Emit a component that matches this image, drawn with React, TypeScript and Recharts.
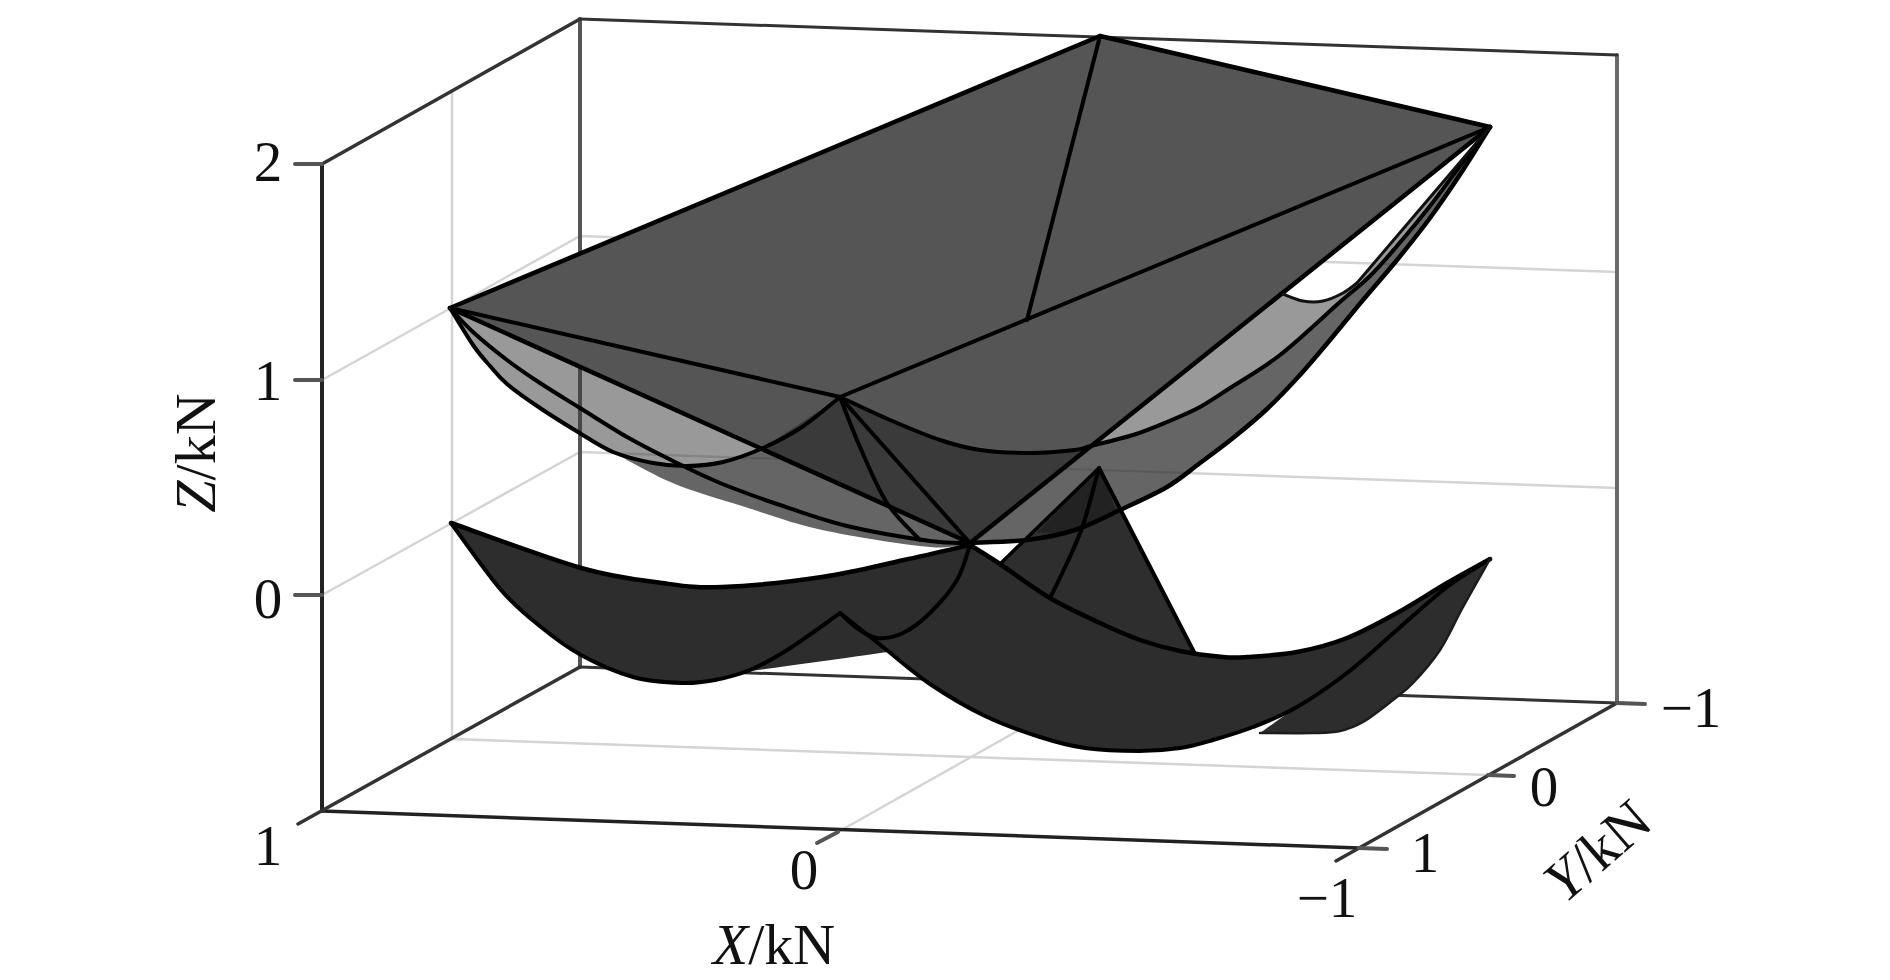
import React from 'react';
import { ScatterChart, Scatter, XAxis, YAxis } from 'recharts';

type Pt = [number, number];

// Projected picture-plane readings [horizontal, vertical] of the 3D plot
const frontLeftEdge: Pt[] = [[322, 164], [322, 811]];
const backLeftEdge: Pt[] = [[580, 19], [580, 667]];
const backRightEdge: Pt[] = [[1617, 55], [1617, 703]];
const topLeftEdge: Pt[] = [[322, 164], [580, 19]];
const topBackEdge: Pt[] = [[580, 19], [1617, 55]];
const floorBackEdge: Pt[] = [[580, 667], [1617, 703]];
const xAxisEdge: Pt[] = [[322, 811], [1359, 848]];
const floorLeftEdge: Pt[] = [[298, 824], [580, 667]];
const yAxisEdge: Pt[] = [[1336, 861], [1617, 703]];
const ticks: Pt[][] = [
  [[295, 164], [322, 164]],
  [[295, 380], [322, 380]],
  [[295, 595], [322, 595]],
  [[817, 843], [838, 832]],
  [[1359, 848], [1387, 849]],
  [[1488, 775], [1514, 776]],
  [[1617, 703], [1645, 704]],
];
const gridLines: Pt[][] = [
  [[322, 380], [580, 236], [1617, 272]],
  [[322, 595], [580, 452], [1617, 488]],
  [[452, 92], [452, 739], [1488, 775]],
  [[838, 832], [1099, 685]],
];

const pL: Pt = [450, 308];
const pT: Pt = [1100, 36];
const pR: Pt = [1490, 127];
const pF: Pt = [840, 397];
const pC: Pt = [970, 543];
const pM: Pt = [1027, 320];
const pJ: Pt = [763, 448];
const pK: Pt = [1091, 446];
const pN: Pt = [1357, 283];
const pS: Pt = [613, 452];

const upperLeftCurve: Pt[] = [pL, [473, 345], [490, 366], [507, 384], [540, 408], [578, 432], pS, [653, 463], [687, 466], [723, 462], pJ];
const upperLeftRise: Pt[] = [pJ, [802, 427], pF];
const upperMidCurve: Pt[] = [pL, [473, 332], [507, 360], [540, 383], [580, 408], [627, 437], [673, 461], [720, 483], [780, 505], [847, 526], [930, 541], pC];
const upperFallCurve: Pt[] = [pF, [890, 420], [940, 440], [980, 450], [1030, 453], [1075, 450], pK];
const innerRight: Pt[] = [[1133, 435], [1167, 422], [1200, 407], [1230, 388], [1280, 355], [1340, 302]];
const upperInnerCurve: Pt[] = [pK, ...innerRight, [1370, 276], [1397, 246], [1430, 206], [1463, 162], pR];
const upperOuterCurve: Pt[] = [pC, [1027, 540], [1075, 530], [1120, 510], [1167, 487], [1200, 463], [1233, 438], [1267, 409], [1300, 375], [1330, 340], [1363, 300], [1397, 260], [1430, 218], [1463, 170], pR];
const innerDropCurve: Pt[] = [pF, [860, 447], [887, 503], [920, 540]];
const notchCurve: Pt[] = [[1283, 294], [1303, 301], [1323, 301], [1343, 293], pN];
const upperUnderEdge: Pt[] = [pS, [640, 467], [680, 486], [742, 506], [822, 530], [930, 547], pC];

const qL: Pt = [451, 523];
const qT: Pt = [1099, 468];
const qR: Pt = [1490, 559];
const qF: Pt = [840, 613];
const qC: Pt = [970, 545];

const lowerTopLeft: Pt[] = [qL, [581, 568], [662, 583], [722, 587], [822, 577], [904, 560], qC];
const lowerFrontLeft: Pt[] = [qL, [501, 590], [541, 627], [581, 655], [633, 677], [682, 683], [715, 680], [750, 670], [784, 652], [815, 631], qF];
const lowerFrontRight: Pt[] = [qF, [883, 647], [930, 684], [985, 716], [1040, 737], [1085, 748], [1139, 751], [1180, 748], [1213, 740], [1253, 727], [1297, 707], [1347, 673], [1397, 630], [1447, 587], qR];
const lowerTopRight: Pt[] = [qC, [1000, 564], [1050, 598], [1100, 623], [1140, 640], [1180, 651], [1223, 657], [1247, 657], [1297, 652], [1347, 638], [1397, 613], [1447, 583], qR];
const lowerBackLobe: Pt[] = [qR, [1463, 607], [1440, 650], [1413, 683], [1393, 700], [1363, 722], [1340, 731], [1313, 733], [1260, 733]];
const lowerBackCover: Pt[] = [[1260, 733], [1297, 707], [1347, 673], [1397, 630], [1447, 587], qR];
const lowerInnerCurve: Pt[] = [qC, [957, 580], [930, 613], [903, 633], [877, 638], [857, 628], qF];
const lowerLeftBand: Pt[] = [[745, 672], [888, 652], qF];
const peakCurve: Pt[] = [qT, [1083, 525], [1067, 563], [1050, 598]];
const peakBase: Pt[] = [[1195, 654], [1140, 640], [1100, 623], [1050, 598], [1000, 564]];
const peakOverlap: Pt[] = [qT, [1037, 533], [1075, 530], [1117, 512]];

const tickLabels = [
  { x: 268, y: 161, text: '2' },
  { x: 268, y: 380, text: '1' },
  { x: 268, y: 598, text: '0' },
  { x: 268, y: 845, text: '1' },
  { x: 804, y: 869, text: '0' },
  { x: 1327, y: 897, text: '\u22121' },
  { x: 1425, y: 852, text: '1' },
  { x: 1544, y: 786, text: '0' },
  { x: 1691, y: 707, text: '\u22121' },
];
const zTitle = [{ x: 195, y: 453, name: 'Z', unit: '/kN' }];
const xTitle = [{ x: 774, y: 944, name: 'X', unit: '/kN' }];
const yTitle = [{ x: 1597, y: 850, name: 'Y', unit: '/kN' }];

const FONT = '"Liberation Serif", serif';
const noDot = () => <g />;
const rev = (pts: Pt[]) => [...pts].reverse();

// Draws the points the chart's scales produced as smooth runs; corners sit at the joins of the runs.
const smoothPath = (points: { x: number; y: number }[], lengths: number[], close: boolean) => {
  let d = '';
  let start = 0;
  lengths.forEach((len, run) => {
    const p = points.slice(start, start + len);
    start += len;
    if (run === 0) d += `M${p[0].x},${p[0].y}`;
    else d += `L${p[0].x},${p[0].y}`;
    for (let i = 0; i < p.length - 1; i++) {
      const a = p[Math.max(i - 1, 0)];
      const b = p[i];
      const c = p[i + 1];
      const e = p[Math.min(i + 2, p.length - 1)];
      d += `C${b.x + (c.x - a.x) / 6},${b.y + (c.y - a.y) / 6} ${c.x - (e.x - b.x) / 6},${c.y - (e.y - b.y) / 6} ${c.x},${c.y}`;
    }
  });
  return close ? d + 'Z' : d;
};

const shapeSeries = (key: string, runs: Pt[][], style: Record<string, any>, close: boolean) => {
  const data = runs.flat().map(([x, y]) => ({ x, y }));
  const lengths = runs.map((r) => r.length);
  return (
    <Scatter
      key={key}
      data={data}
      isAnimationActive={false}
      shape={noDot}
      line={(lp: any) => <path d={smoothPath(lp.points, lengths, close)} {...style} />}
    />
  );
};
const poly = (key: string, runs: Pt[][], fill: string) => shapeSeries(key, runs, { fill, stroke: 'none' }, true);
const edge = (key: string, pts: Pt[], stroke = '#000', strokeWidth = 4) =>
  shapeSeries(key, [pts], { fill: 'none', stroke, strokeWidth, strokeLinejoin: 'round', strokeLinecap: 'round' }, false);

const TickText = (p: any) => (
  <text x={p.cx} y={p.cy} textAnchor="middle" dominantBaseline="central" fontFamily={FONT} fontSize={57} fill="#111">
    {p.payload.text}
  </text>
);
const titleShape = (angle: number) => (p: any) => (
  <text
    x={p.cx}
    y={p.cy}
    transform={`rotate(${angle} ${p.cx} ${p.cy})`}
    textAnchor="middle"
    dominantBaseline="central"
    fontFamily={FONT}
    fontSize={58}
    fill="#111"
  >
    <tspan fontStyle="italic">{p.payload.name}</tspan>
    <tspan>{p.payload.unit}</tspan>
  </text>
);

export default function App() {
  return (
    <div style={{ position: 'absolute', left: 0, top: 0, width: 1890, height: 980, background: '#fff' }}>
      <ScatterChart width={1890} height={980} margin={{ top: 0, right: 0, bottom: 0, left: 0 }}>
        <XAxis type="number" dataKey="x" domain={[0, 1890]} hide />
        <YAxis type="number" dataKey="y" domain={[0, 980]} reversed hide />

        {gridLines.map((g, i) => shapeSeries(`grid${i}`, g.slice(0, -1).map((p, j) => [p, g[j + 1]]), { fill: 'none', stroke: '#d4d4d4', strokeWidth: 2.5 }, false))}
        {edge('backLeft', backLeftEdge, '#555', 4)}
        {edge('backRight', backRightEdge, '#6a6a6a', 4)}
        {edge('topBack', topBackEdge, '#333', 3)}
        {edge('floorBack', floorBackEdge, '#333', 3)}
        {edge('frontLeft', frontLeftEdge, '#222', 4)}
        {edge('topLeft', topLeftEdge, '#333', 3.5)}
        {edge('xAxis', xAxisEdge, '#222', 3.5)}
        {edge('floorLeft', floorLeftEdge, '#333', 3.5)}
        {edge('yAxis', yAxisEdge, '#333', 3.5)}
        {ticks.map((t, i) => edge(`tick${i}`, t, '#555', 4))}

        {poly('backLobe', [lowerBackLobe, lowerBackCover], '#2d2d2d')}
        {poly('leftBand', [[lowerLeftBand[0], lowerLeftBand[1]], [lowerLeftBand[1], qF]], '#2d2d2d')}
        {poly('peak', [[qT, peakBase[0]], peakBase], '#2e2e2e')}

        {poly('underLeft', [[pJ, pC], rev(upperUnderEdge), [pS, [653, 463], [687, 466], [723, 462], pJ]], 'rgba(50,50,50,0.75)')}
        {poly('lightLeft', [upperLeftCurve], 'rgba(60,60,60,0.52)')}
        {poly('underRight', [[pC, pK], upperInnerCurve, rev(upperOuterCurve)], 'rgba(50,50,50,0.75)')}
        {poly('lightRight', [[pK, notchCurve[0]], notchCurve, [pN, ...rev(innerRight), pK]], '#999999')}
        {poly('lightThin', [[pN, pR], [pR, [1463, 162], [1430, 206], [1397, 246], [1370, 276]]], '#999999')}
        {poly('topPlane', [[pL, pT], [pT, pR], [pR, pC]], '#555555')}
        {poly('darkZone', [upperFallCurve, [pK, pC], [pC, pJ], rev(upperLeftRise)], '#3a3a3a')}
        {poly('peakOverlap', [[qT, peakOverlap[1]], peakOverlap.slice(1), [peakOverlap[3], qT]], '#222222')}

        {poly('lowerLeft', [lowerTopLeft, lowerInnerCurve, rev(lowerFrontLeft)], '#2d2d2d')}
        {poly('lowerRight', [lowerTopRight, rev(lowerFrontRight), [qF, qC]], '#2d2d2d')}

        {edge('e1', [pL, pT], '#000', 4.5)}
        {edge('e2', [pT, pR], '#000', 4.5)}
        {edge('e3', [pT, pM], '#000', 4)}
        {edge('e4', [pF, pR], '#000', 4)}
        {edge('e5', [pL, pF], '#000', 4)}
        {edge('e6', [pL, pC], '#000', 4.5)}
        {edge('e7', [pC, pR], '#000', 4.5)}
        {edge('e8', [pF, pC], '#000', 4)}
        {edge('c1', [...upperLeftCurve, ...upperLeftRise.slice(1)])}
        {edge('c3', upperMidCurve)}
        {edge('c4', [...upperFallCurve, ...upperInnerCurve.slice(1)])}
        {edge('c6', upperOuterCurve, '#000', 4.5)}
        {edge('c7', innerDropCurve)}
        {edge('c8', notchCurve, '#111', 3)}
        {edge('c9', [pN, pR], '#111', 3)}

        {edge('l1', lowerTopLeft, '#000', 4.5)}
        {edge('l2', lowerFrontLeft)}
        {edge('l3', lowerFrontRight)}
        {edge('l4', lowerTopRight, '#000', 4.5)}
        {edge('l5', lowerInnerCurve)}
        {edge('l6', peakCurve)}
        {edge('l7', [qT, [1000, 564]], '#000', 3.5)}
        {edge('l8', [qT, peakBase[0]])}
        {edge('l9', lowerBackLobe, '#1c1c1c', 2.5)}

        <Scatter data={tickLabels} isAnimationActive={false} shape={TickText} />
        <Scatter data={zTitle} isAnimationActive={false} shape={titleShape(-90)} />
        <Scatter data={xTitle} isAnimationActive={false} shape={titleShape(0)} />
        <Scatter data={yTitle} isAnimationActive={false} shape={titleShape(-41)} />
      </ScatterChart>
    </div>
  );
}
